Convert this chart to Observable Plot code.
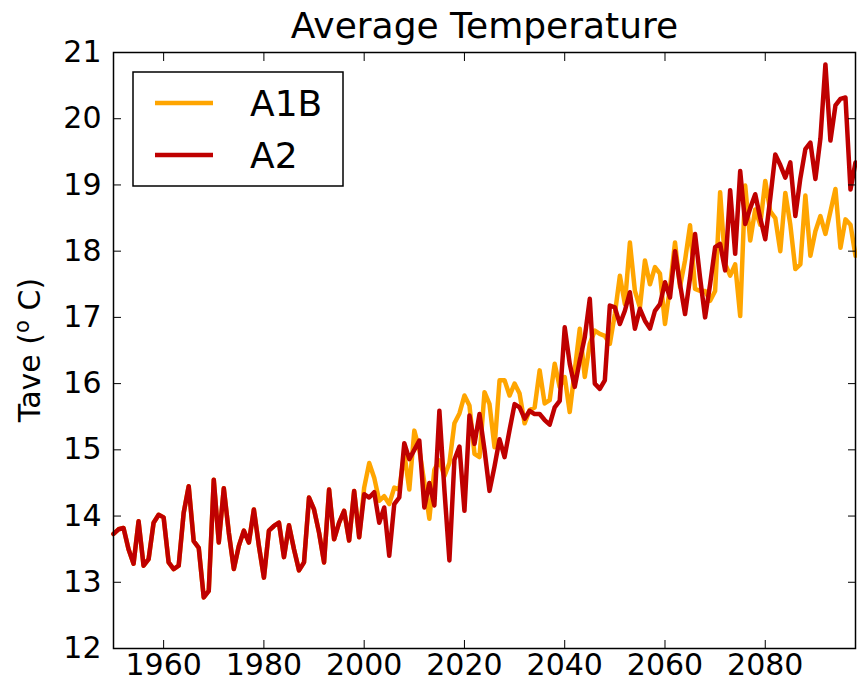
<!DOCTYPE html>
<html><head><meta charset="utf-8">
<script src="https://cdn.jsdelivr.net/npm/d3@7"></script>
<script src="https://cdn.jsdelivr.net/npm/@observablehq/plot@0.6"></script>
<style>body{margin:0;background:#fff;}</style>
</head><body><div id="chart"></div>
<script>
// Years 1950–2098
const years = d3.range(1950, 2099);
// Shared historical record 1950–1999
const histTave = [
13.73,13.80,13.82,13.50,13.28,13.92,13.25,13.35,13.90,14.02,
13.98,13.30,13.20,13.25,14.05,14.45,13.62,13.52,12.77,12.87,
14.55,13.60,14.42,13.75,13.20,13.55,13.78,13.60,14.10,13.55,
13.07,13.78,13.85,13.90,13.38,13.86,13.50,13.18,13.30,14.28,
14.10,13.75,13.30,14.40,13.65,13.90,14.08,13.63,14.38,13.68];
// A1B scenario 2000–2098
const a1bTave = [
14.43,14.80,14.58,14.23,14.30,14.18,14.43,14.40,14.95,14.40,
15.29,15.00,14.50,13.96,14.70,14.84,14.60,14.80,15.40,15.55,
15.82,15.67,14.94,14.89,15.87,15.69,15.04,16.05,16.05,15.82,
16.00,15.85,15.40,15.60,15.64,16.20,15.70,15.75,16.30,15.95,
16.10,15.57,16.20,16.83,16.10,16.60,16.80,16.75,16.72,16.60,
17.05,17.63,17.20,18.13,17.40,17.15,17.86,17.50,17.76,17.66,
16.90,17.46,18.13,17.46,17.86,18.39,17.43,17.40,17.40,17.25,
17.40,18.89,17.81,17.63,17.80,17.02,18.99,18.16,18.63,18.40,
19.06,18.60,18.50,18.00,18.88,18.40,17.73,17.80,18.84,17.93,
18.30,18.53,18.26,18.60,18.94,18.05,18.48,18.40,17.93];
// A2 scenario 2000–2098
const a2Tave = [
14.33,14.28,14.36,13.90,14.13,13.40,14.18,14.28,15.10,14.86,
15.00,15.14,14.13,14.50,14.16,15.59,14.40,13.33,14.85,15.05,
14.08,15.52,15.09,15.54,15.00,14.38,14.75,15.16,14.89,15.30,
15.69,15.64,15.47,15.59,15.54,15.54,15.45,15.38,15.64,15.74,
16.85,16.30,15.95,16.35,16.70,17.28,16.00,15.92,16.05,17.18,
17.15,16.90,17.10,17.38,16.83,17.13,16.95,16.83,17.10,17.20,
17.53,17.30,18.00,17.50,17.05,17.60,18.26,17.60,17.00,17.50,
18.06,18.11,17.71,18.92,17.96,19.21,18.41,18.65,18.86,18.50,
18.18,18.80,19.46,19.30,19.11,19.34,18.53,19.10,19.54,19.64,
19.09,19.70,20.82,19.67,20.20,20.30,20.32,18.93,19.34];

const seriesNames = ["A1B", "A2"];
const seriesColors = ["#ffa500", "#bf0000"];
const xTicks = [1960, 1980, 2000, 2020, 2040, 2060, 2080];
const yTicks = [12, 13, 14, 15, 16, 17, 18, 19, 20, 21];
const titleText = "Average Temperature";

const rows = [];
[a1bTave, a2Tave].forEach((fut, s) => {
  years.forEach((yr, i) => {
    const v = i < histTave.length ? histTave[i] : fut[i - histTave.length];
    rows.push({year: yr, tave: v, scenario: seriesNames[s]});
  });
});

const W = 857, H = 683;
const chart = Plot.plot({
  width: W, height: H,
  marginLeft: 113, marginRight: 2, marginTop: 52, marginBottom: 35,
  style: {fontFamily: "DejaVu Sans", background: "white", color: "black"},
  x: {domain: [1950, 2098]},
  y: {domain: [12, 21]},
  color: {domain: seriesNames, range: seriesColors},
  marks: [
    Plot.lineY(rows, {x: "year", y: "tave", stroke: "scenario", z: "scenario", strokeWidth: 4.5, strokeLinejoin: "round"}),
    Plot.frame({stroke: "black", strokeWidth: 1.5}),
    Plot.axisX({anchor: "bottom", ticks: xTicks, tickSize: -8, tickPadding: 13, tickFormat: d => String(d), fontSize: 30, label: null}),
    Plot.axisX({anchor: "top", ticks: xTicks, tickSize: -8, tickFormat: () => "", label: null}),
    Plot.axisY({anchor: "left", ticks: yTicks, tickSize: -8, tickPadding: 20, tickFormat: d => String(d), fontSize: 30, label: null}),
    Plot.axisY({anchor: "right", ticks: yTicks, tickSize: -8, tickFormat: () => "", label: null}),
    Plot.text([titleText], {frameAnchor: "top", text: d => d, dy: -40, lineAnchor: "top", fontSize: 36})
  ]
});
document.getElementById("chart").appendChild(chart);

const svg = d3.select(chart);
// y label with superscript o
const yl = svg.append("text")
  .attr("transform", `translate(40,${(52 + 648) / 2}) rotate(-90)`)
  .attr("text-anchor", "middle")
  .attr("font-size", 30)
  .attr("font-family", "DejaVu Sans")
  .attr("fill", "black");
yl.append("tspan").text("Tave (");
yl.append("tspan").attr("font-size", 21).attr("dy", -11).text("o");
yl.append("tspan").attr("dy", 11).text(" C)");

// legend
const lg = svg.append("g");
lg.append("rect").attr("x", 133).attr("y", 72).attr("width", 210).attr("height", 114)
  .attr("fill", "white").attr("stroke", "black").attr("stroke-width", 1.5);
seriesNames.forEach((n, i) => {
  const cy = 103 + i * 52;
  lg.append("line").attr("x1", 155).attr("x2", 213).attr("y1", cy).attr("y2", cy)
    .attr("stroke", seriesColors[i]).attr("stroke-width", 4.5);
  lg.append("text").attr("x", 250).attr("y", cy).attr("dy", "0.36em")
    .attr("text-anchor", "start")
    .attr("font-size", 36).attr("font-family", "DejaVu Sans").attr("fill", "black").text(n);
});
</script>
</body></html>
